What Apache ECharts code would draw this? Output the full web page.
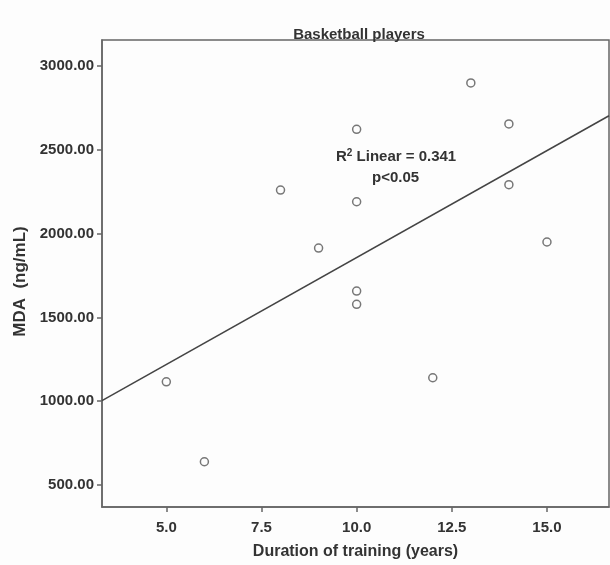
<!DOCTYPE html>
<html>
<head>
<meta charset="utf-8">
<script src="https://cdn.jsdelivr.net/npm/echarts@6/dist/echarts.min.js"></script>
<style>
  html, body { margin: 0; padding: 0; background: #fdfdfd; }
  #chart { width: 610px; height: 565px; }
</style>
</head>
<body>
<div id="chart"></div>
<script>
// training years vs MDA for each player
var years = [5, 6, 8, 9, 10, 10, 10, 10, 12, 13, 14, 14, 15];
var mda = [1116, 639, 2260, 1914, 2622, 2190, 1657, 1578, 1140, 2899, 2654, 2292, 1950];
var xTicks = [5, 7.5, 10, 12.5, 15];
var yTicks = [500, 1000, 1500, 2000, 2500, 3000];
var xMin = 3.31, xMax = 16.63;
var yMin = 369, yMax = 3155;

// least squares fit line
function fit(xs, ys) {
  var n = xs.length, mx = 0, my = 0;
  for (var i = 0; i < n; i++) { mx += xs[i]; my += ys[i]; }
  mx /= n; my /= n;
  var sxy = 0, sxx = 0;
  for (var j = 0; j < n; j++) {
    sxy += (xs[j] - mx) * (ys[j] - my);
    sxx += (xs[j] - mx) * (xs[j] - mx);
  }
  var b = sxy / sxx;
  return { a: my - b * mx, b: b };
}
var f = fit(years, mda);

var font = "Liberation Sans";
var chart = echarts.init(document.getElementById("chart"));

var option = {
  backgroundColor: "#fdfdfd",
  animation: false,
  title: {
    text: "Basketball players",
    left: 354,
    textAlign: "center",
    top: 22,
    textStyle: { fontFamily: font, fontSize: 15, fontWeight: "bold", color: "#333" },
  },
  grid: {
    left: 102,
    right: 1,
    top: 40,
    bottom: 58,
    show: true,
    borderColor: "#666",
    borderWidth: 1.5,
    backgroundColor: "transparent",
  },
  xAxis: {
    type: "value",
    min: xMin,
    max: xMax,
    name: "Duration of training (years)",
    nameLocation: "middle",
    nameGap: 37,
    nameTextStyle: { fontFamily: font, fontSize: 16, fontWeight: "bold", color: "#333" },
    axisLine: { show: true, onZero: false, lineStyle: { color: "#666", width: 1.5 } },
    axisTick: { show: true, length: 5, customValues: xTicks, lineStyle: { color: "#666", width: 1.5 } },
    axisLabel: {
      customValues: xTicks,
      margin: 13,
      fontFamily: font,
      fontSize: 15,
      fontWeight: "bold",
      color: "#333",
      formatter: function (v) { return v.toFixed(1); },
    },
    splitLine: { show: false },
  },
  yAxis: {
    type: "value",
    min: yMin,
    max: yMax,
    name: "MDA  (ng/mL)",
    nameLocation: "middle",
    nameGap: 73,
    nameTextStyle: { fontFamily: font, fontSize: 17, fontWeight: "bold", color: "#333", padding: [0, 16, 0, 0] },
    axisLine: { show: true, onZero: false, lineStyle: { color: "#666", width: 1.5 } },
    axisTick: { show: true, length: 5, customValues: yTicks, lineStyle: { color: "#666", width: 1.5 } },
    axisLabel: {
      customValues: yTicks,
      margin: 8,
      fontFamily: font,
      fontSize: 15,
      fontWeight: "bold",
      color: "#333",
      formatter: function (v) { return v.toFixed(2); },
    },
    splitLine: { show: false },
  },
  series: [
    {
      type: "line",
      data: [[xMin, f.a + f.b * xMin], [xMax, f.a + f.b * xMax]],
      symbol: "none",
      lineStyle: { color: "#444", width: 1.5 },
      silent: true,
    },
    {
      type: "scatter",
      data: years.map(function (x, i) { return [x, mda[i]]; }),
      symbol: "circle",
      symbolSize: 8,
      itemStyle: { color: "#fdfdfd", borderColor: "#555", borderWidth: 1.5 },
    },
  ],
  graphic: [
    {
      type: "text",
      left: 336,
      top: 148,
      style: {
        text: "{t|R}{s|2}{t| Linear = 0.341}",
        rich: {
          t: { fontFamily: font, fontSize: 15, fontWeight: "bold", fill: "#333", verticalAlign: "bottom" },
          s: { fontFamily: font, fontSize: 10, fontWeight: "bold", fill: "#333", verticalAlign: "top", padding: [0, 0, 6, 0] },
        },
      },
    },
    {
      type: "text",
      left: 372,
      top: 170,
      style: { text: "p<0.05", fontFamily: font, fontSize: 15, fontWeight: "bold", fill: "#333" },
    },
  ],
};

chart.setOption(option);
</script>
</body>
</html>
